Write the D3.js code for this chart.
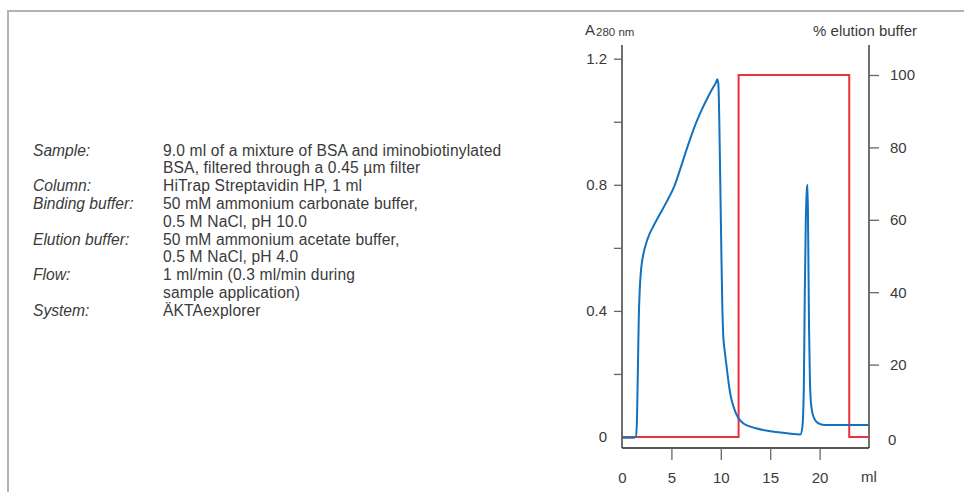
<!DOCTYPE html>
<html><head><meta charset="utf-8">
<script src="https://cdn.jsdelivr.net/npm/d3@7"></script>
<style>
html,body{margin:0;padding:0;background:#fff;}
svg text{font-family:"Liberation Sans",Arial,sans-serif;fill:#3a3a3a;}
</style></head>
<body>
<svg id="c" width="964" height="492"></svg>
<script>
// ---- data ----
const infoLabels = ["Sample:", "", "Column:", "Binding buffer:", "", "Elution buffer:", "", "Flow:", "", "System:"];
const infoValues = [
  "9.0 ml of a mixture of BSA and iminobiotinylated",
  "BSA, filtered through a 0.45 µm filter",
  "HiTrap Streptavidin HP, 1 ml",
  "50 mM ammonium carbonate buffer,",
  "0.5 M NaCl, pH 10.0",
  "50 mM ammonium acetate buffer,",
  "0.5 M NaCl, pH 4.0",
  "1 ml/min (0.3 ml/min during",
  "sample application)",
  "ÄKTAexplorer"
];
const xTicks = [0, 5, 10, 15, 20];
const yLeftTicks = [0, 0.2, 0.4, 0.6, 0.8, 1.0, 1.2];
const yLeftLabels = ["0", "", "0.4", "", "0.8", "", "1.2"];
const yRightTicks = [0, 20, 40, 60, 80, 100];

const absVolume = [0, 1.2, 1.4, 1.5, 1.6, 1.7, 1.8, 1.9, 2.0, 2.2, 2.4, 2.8, 3.2, 3.8, 4.5, 5.35, 6.0, 6.6, 7.2, 7.6, 8.1, 8.6, 9.1, 9.5, 9.65, 9.75, 9.85, 9.95, 10.05, 10.15, 10.25, 10.37, 10.6, 10.8, 11.0, 11.3, 11.6, 11.9, 12.3, 13.0, 13.65, 15.0, 16.7, 18.05, 18.25, 18.4, 18.5, 18.6, 18.7, 18.78, 18.85, 18.93, 19.02, 19.15, 19.4, 19.8, 20.5, 25];
const absA280 = [-0.002, -0.002, 0.0, 0.04, 0.2, 0.38, 0.47, 0.52, 0.55, 0.585, 0.61, 0.645, 0.67, 0.705, 0.745, 0.80, 0.86, 0.918, 0.972, 1.004, 1.04, 1.072, 1.102, 1.124, 1.135, 1.12, 1.0, 0.8, 0.6, 0.42, 0.32, 0.28, 0.22, 0.17, 0.13, 0.095, 0.07, 0.055, 0.043, 0.033, 0.027, 0.018, 0.012, 0.008, 0.03, 0.15, 0.45, 0.68, 0.78, 0.80, 0.62, 0.35, 0.18, 0.1, 0.062, 0.045, 0.038, 0.038];

const elutionVolume = [0, 11.8, 11.8, 23.0, 23.0, 25];
const elutionPct = [0, 0, 100, 100, 0, 0];

// ---- drawing ----
const svg = d3.select("#c");

// frame
svg.append("path").attr("d", "M8,492 V11 H964").attr("fill", "none")
  .attr("stroke", "#b3b3b3").attr("stroke-width", 2);

// info block
const info = svg.append("g");
infoLabels.forEach((t, i) => {
  const y = 155.5 + i * 17.8;
  if (t) info.append("text").attr("x", 33).attr("y", y).attr("font-size", 15.6)
    .attr("font-style", "italic").attr("fill", "#444").text(t);
  info.append("text").attr("x", 163).attr("y", y).attr("font-size", 15.6)
    .attr("letter-spacing", 0.15).attr("fill", "#444").text(infoValues[i]);
});

const x = d3.scaleLinear().domain([0, 25]).range([622, 869]);
const yL = d3.scaleLinear().domain([0, 1.2]).range([437, 58.7]);
const yR = d3.scaleLinear().domain([0, 100]).range([437, 75]);

// axis lines
const axisColor = "#222";
svg.append("line").attr("x1", 622).attr("x2", 622).attr("y1", 45).attr("y2", 448).attr("stroke", axisColor).attr("stroke-width", 1.3);
svg.append("line").attr("x1", 869).attr("x2", 869).attr("y1", 45).attr("y2", 448).attr("stroke", axisColor).attr("stroke-width", 1.3);
svg.append("line").attr("x1", 622).attr("x2", 869).attr("y1", 448).attr("y2", 448).attr("stroke", axisColor).attr("stroke-width", 1.3);

function styleAxis(g) {
  g.select(".domain").remove();
  g.selectAll(".tick line").attr("stroke", "#666").attr("stroke-width", 1.3);
  g.selectAll(".tick text").attr("font-size", 15).attr("fill", "#3a3a3a")
    .attr("font-family", "Liberation Sans, Arial, sans-serif");
}

const gL = svg.append("g").attr("transform", "translate(622,0)")
  .call(d3.axisLeft(yL).tickValues(yLeftTicks).tickSize(8).tickPadding(7)
    .tickFormat((d, i) => yLeftLabels[i]));
styleAxis(gL);
gL.selectAll(".tick").filter(d => d === 0).select("line").remove();

const gR = svg.append("g").attr("transform", "translate(869,0)")
  .call(d3.axisRight(yR).tickValues(yRightTicks).tickSize(10).tickPadding(11));
styleAxis(gR);
gR.selectAll(".tick").filter(d => d === 0).select("line").remove();
gR.selectAll(".tick").filter(d => d === 0).select("text").attr("x", 19).attr("dy", "0.52em");

const gX = svg.append("g").attr("transform", "translate(0,448)")
  .call(d3.axisBottom(x).tickValues(xTicks).tickSize(12).tickPadding(12));
styleAxis(gX);
gX.selectAll(".tick").filter(d => d === 0).select("line").remove();

svg.append("text").attr("x", x(25)).attr("y", 482).attr("text-anchor", "middle")
  .attr("font-size", 15).text("ml");

// axis titles
const tA = svg.append("text").attr("x", 585).attr("y", 35).attr("font-size", 15);
tA.append("tspan").text("A");
tA.append("tspan").attr("font-size", 11.5).attr("dy", 1).attr("dx", 1).text("280 nm");
svg.append("text").attr("x", 917).attr("y", 36).attr("text-anchor", "end")
  .attr("font-size", 15).text("% elution buffer");

// lines
const redLine = d3.line().x((d, i) => x(elutionVolume[i])).y((d, i) => yR(elutionPct[i]));
svg.append("path").datum(elutionPct).attr("d", redLine).attr("fill", "none")
  .attr("stroke", "#e8323c").attr("stroke-width", 2);

const blueLine = d3.line().curve(d3.curveMonotoneX)
  .x((d, i) => x(absVolume[i])).y((d, i) => yL(absA280[i]));
svg.append("path").datum(absA280).attr("d", blueLine).attr("fill", "none")
  .attr("stroke", "#1272bf").attr("stroke-width", 2);
</script>
</body></html>
